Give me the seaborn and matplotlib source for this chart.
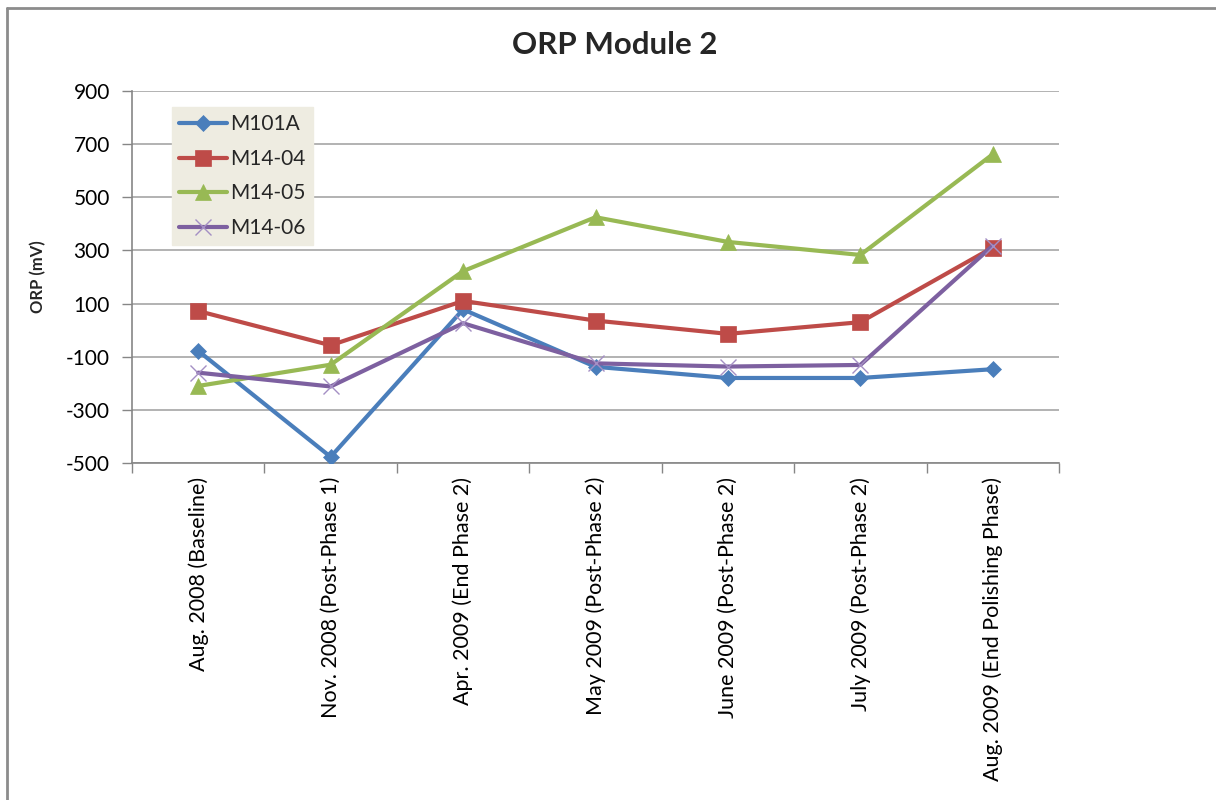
import matplotlib
matplotlib.use("Agg")
import matplotlib.pyplot as plt
from matplotlib.lines import Line2D
from matplotlib.ticker import FixedLocator
import seaborn as sns
import pandas as pd

# Sampling events (x categories)
categories = [
    "Aug. 2008 (Baseline)",
    "Nov. 2008 (Post-Phase 1)",
    "Apr. 2009 (End Phase 2)",
    "May 2009 (Post-Phase 2)",
    "June 2009 (Post-Phase 2)",
    "July 2009 (Post-Phase 2)",
    "Aug. 2009 (End Polishing Phase)",
]

# Y axis ticks (mV)
y_ticks = [-500, -300, -100, 100, 300, 500, 700, 900]

# ORP readings (mV) per monitoring well
m101a = [-78, -477, 78, -138, -180, -180, -147]
m14_04 = [72, -57, 110, 36, -14, 30, 311]
m14_05 = [-210, -130, 222, 425, 332, 283, 662]
m14_06 = [-160, -212, 26, -125, -137, -131, 318]

series_names = ["M101A", "M14-04", "M14-05", "M14-06"]
series_values = [m101a, m14_04, m14_05, m14_06]

colors = {"M101A": "#4A7EBB", "M14-04": "#BE4B48", "M14-05": "#98B954", "M14-06": "#7D60A0"}
markers = {"M101A": "D", "M14-04": "s", "M14-05": "^", "M14-06": "x"}
msizes = {"M101A": 8, "M14-04": 11, "M14-05": 12, "M14-06": 12}

df = pd.DataFrame(
    [
        {"pos": i, "event": cat, "series": name, "orp": val}
        for name, vals in zip(series_names, series_values)
        for i, (cat, val) in enumerate(zip(categories, vals))
    ]
)

sns.set_theme(style="white")
plt.rcParams["font.family"] = ["Lato", "DejaVu Sans"]
plt.rcParams["axes.unicode_minus"] = False

fig = plt.figure(figsize=(12.16, 8.0), dpi=100)
ax = fig.add_axes([132 / 1216, 1 - 463 / 800, 927 / 1216, 372 / 800])

for name in series_names:
    sub = df[df["series"] == name]
    is_x = markers[name] == "x"
    sns.lineplot(
        data=sub, x="pos", y="orp", ax=ax, color=colors[name],
        linewidth=3.0, marker=markers[name], markersize=msizes[name],
        markeredgewidth=1.0 if is_x else 0.5,
        markeredgecolor="#A48FC4" if is_x else colors[name],
        label=name, sort=False, zorder=3,
    )

ax.set_xlim(-0.5, len(categories) - 0.5)
ax.set_ylim(y_ticks[0], y_ticks[-1])
ax.set_yticks(y_ticks)
ax.set_yticklabels([str(v) for v in y_ticks])
ax.grid(axis="y", color="#a6a6a6", linewidth=1.2)
ax.grid(axis="x", visible=False)
ax.set_axisbelow(True)

ax.set_xticks(range(len(categories)))
ax.set_xticklabels(categories, rotation=90, va="top", ha="center", fontsize=15.5)
ax.xaxis.set_minor_locator(FixedLocator([i - 0.5 for i in range(len(categories) + 1)]))
ax.tick_params(axis="x", which="major", length=0, pad=10)
ax.tick_params(axis="x", which="minor", length=7, width=1, color="#868686", direction="out", bottom=True)
ax.tick_params(axis="y", length=7, width=1, color="#868686", direction="out", left=True, labelsize=15, pad=9)
for lbl in ax.get_yticklabels() + ax.get_xticklabels():
    lbl.set_color("black")

for side in ["top", "right"]:
    ax.spines[side].set_visible(False)
for side in ["left", "bottom"]:
    ax.spines[side].set_color("#868686")
    ax.spines[side].set_linewidth(1.2)

ax.set_xlabel("")
ax.set_ylabel("ORP (mV)", fontsize=12, fontweight="bold", labelpad=14)
fig.text(615 / 1216, 1 - 45 / 800, "ORP Module 2", ha="center", va="center",
         fontsize=22.5, fontweight="bold")

leg = ax.legend(
    loc="upper left", bbox_to_anchor=(0.043, 0.957), borderaxespad=0,
    frameon=True, fancybox=False, facecolor="#EEECE1", edgecolor="#EEECE1",
    framealpha=1, fontsize=15, handlelength=2.3, handletextpad=0.15,
    labelspacing=0.7, borderpad=0.35,
)
leg.set_zorder(5)

# Chart frame (left and top edges)
fig.add_artist(Line2D([7 / 1216, 7 / 1216], [0, 1 - 8 / 800], color="#8c8c8c", linewidth=2))
fig.add_artist(Line2D([7 / 1216, 1], [1 - 8 / 800, 1 - 8 / 800], color="#8c8c8c", linewidth=2))

fig.savefig("out.png", dpi=100, facecolor="white")
